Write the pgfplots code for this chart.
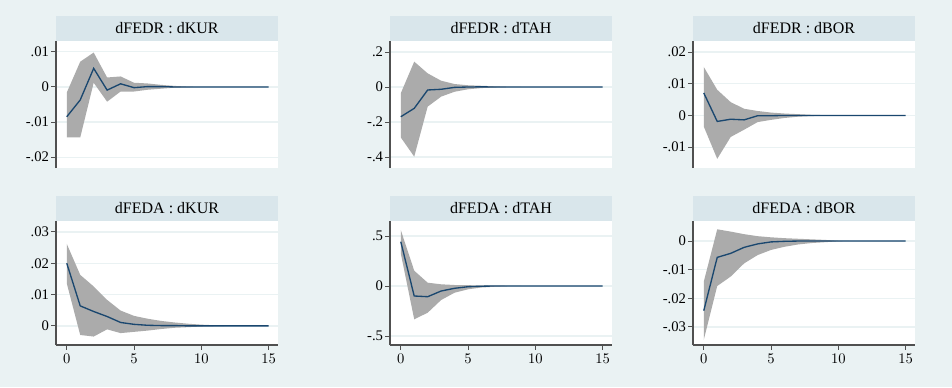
\documentclass[border=0pt]{standalone}
\usepackage{fontspec}
\setmainfont{Liberation Serif}
\usepackage{pgfplots}
\pgfplotsset{compat=1.18}
\usepackage{pgfplotstable}
\usepgfplotslibrary{fillbetween}
\definecolor{bgc}{HTML}{EAF2F3}
\definecolor{titc}{HTML}{D9E6EB}
\definecolor{navy}{HTML}{1A476F}
\definecolor{cig}{HTML}{ABABAB}
\definecolor{axc}{HTML}{505050}
\definecolor{gridc}{HTML}{EAF2F3}
\pagecolor{bgc}

\pgfplotstableread{
t irf lo hi
0 -0.0085 -0.0144 -0.0016
1 -0.0037 -0.0144 0.0072
2 0.0053 0.0012 0.0098
3 -0.0009 -0.0042 0.0027
4 0.0009 -0.0013 0.0030
5 -0.0002 -0.0013 0.0012
6 0.0001 -0.0008 0.0010
7 0.0001 -0.0005 0.0006
8 0.0000 -0.0002 0.0003
9 0.0000 -0.0001 0.0001
10 0 0 0
11 0 0 0
12 0 0 0
13 0 0 0
14 0 0 0
15 0 0 0
}\Pone

\pgfplotstableread{
t irf lo hi
0 -0.170 -0.288 -0.036
1 -0.122 -0.398 0.145
2 -0.017 -0.112 0.078
3 -0.013 -0.055 0.036
4 -0.002 -0.027 0.017
5 0.000 -0.013 0.010
6 0.001 -0.006 0.007
7 0.000 -0.003 0.004
8 0 -0.001 0.001
9 0 0 0
10 0 0 0
11 0 0 0
12 0 0 0
13 0 0 0
14 0 0 0
15 0 0 0
}\Ptwo

\pgfplotstableread{
t irf lo hi
0 0.0071 -0.0035 0.0153
1 -0.0019 -0.0137 0.0081
2 -0.0012 -0.0068 0.0042
3 -0.0014 -0.0045 0.0021
4 -0.0001 -0.0021 0.0014
5 -0.0001 -0.0014 0.0009
6 0.0000 -0.0008 0.0006
7 0 -0.0004 0.0004
8 0 -0.0002 0.0002
9 0 -0.0001 0.0001
10 0 0 0
11 0 0 0
12 0 0 0
13 0 0 0
14 0 0 0
15 0 0 0
}\Pthree

\pgfplotstableread{
t irf lo hi
0 0.0200 0.0136 0.0262
1 0.0064 -0.0029 0.0163
2 0.0046 -0.0034 0.0126
3 0.0030 -0.0011 0.0083
4 0.0011 -0.0023 0.0049
5 0.0005 -0.0019 0.0032
6 0.0002 -0.0015 0.0023
7 0.0001 -0.0010 0.0016
8 0.0001 -0.0006 0.0011
9 0.0000 -0.0004 0.0007
10 0 -0.0002 0.0004
11 0 -0.0001 0.0002
12 0 0 0.0001
13 0 0 0
14 0 0 0
15 0 0 0
}\Pfour

\pgfplotstableread{
t irf lo hi
0 0.443 0.327 0.560
1 -0.100 -0.333 0.153
2 -0.107 -0.267 0.033
3 -0.050 -0.140 0.017
4 -0.023 -0.067 0.010
5 -0.007 -0.033 0.008
6 -0.002 -0.015 0.006
7 0 -0.007 0.004
8 0 -0.002 0.002
9 0 0 0
10 0 0 0
11 0 0 0
12 0 0 0
13 0 0 0
14 0 0 0
15 0 0 0
}\Pfive

\pgfplotstableread{
t irf lo hi
0 -0.0243 -0.0345 -0.0142
1 -0.0057 -0.0157 0.0041
2 -0.0043 -0.0124 0.0033
3 -0.0022 -0.0078 0.0024
4 -0.0010 -0.0049 0.0017
5 -0.0003 -0.0031 0.0013
6 -0.0001 -0.0020 0.0010
7 0 -0.0012 0.0008
8 0 -0.0007 0.0006
9 0 -0.0004 0.0004
10 0 -0.0001 0.0001
11 0 0 0
12 0 0 0
13 0 0 0
14 0 0 0
15 0 0 0
}\Psix

\pgfplotsset{
  irf/.style={
    scale only axis, width=166.5pt, xmin=-0.8, xmax=15.7,
    anchor=south west,
    axis y line*=left,
    axis line style={axc, line width=0.9pt},
    tick style={axc, line width=0.7pt},
    tick align=outside, major tick length=3.5pt,
    ymajorgrids, grid style={gridc, line width=0.9pt},
    axis background/.style={fill=white},
    tick label style={font=\fontsize{11}{12}\selectfont},
    yticklabel style={inner xsep=1.5pt},
    title style={at={(0.5,1)}, anchor=south, fill=titc, minimum width=166.5pt,
      minimum height=18.4pt, inner sep=0pt, font=\fontsize{12}{13}\selectfont},
    every axis title shift=0pt,
  },
  toprow/.style={irf, height=95.25pt, axis x line=none, xtick=\empty},
  botrow/.style={irf, height=93pt, axis x line*=bottom, xtick={0,5,10,15}},
}

\newcommand{\band}[2]{%
  \addplot[name path=#2hi, draw=none, forget plot] table[x=t,y=hi]{#1};
  \addplot[name path=#2lo, draw=none, forget plot] table[x=t,y=lo]{#1};
  \addplot[cig, draw=none] fill between[of=#2hi and #2lo];
  \addplot[navy, line width=1pt] table[x=t,y=irf]{#1};
}

\begin{document}
\begin{tikzpicture}
\path (0,0) rectangle (714pt,290.25pt);

\begin{axis}[toprow, at={(42pt,164.25pt)}, title={dFEDR : dKUR},
  ymin=-0.0231, ymax=0.0131, ytick={-0.02,-0.01,0,0.01}, yticklabels={-.02,-.01,0,.01}]
\band{\Pone}{a}
\end{axis}

\begin{axis}[toprow, at={(292.5pt,164.25pt)}, title={dFEDR : dTAH},
  ymin=-0.463, ymax=0.263, ytick={-0.4,-0.2,0,0.2}, yticklabels={-.4,-.2,0,.2}]
\band{\Ptwo}{b}
\end{axis}

\begin{axis}[toprow, at={(519.75pt,164.25pt)}, title={dFEDR : dBOR},
  ymin=-0.0166, ymax=0.0235, ytick={-0.01,0,0.01,0.02}, yticklabels={-.01,0,.01,.02}]
\band{\Pthree}{c}
\end{axis}

\begin{axis}[botrow, at={(42pt,31.5pt)}, title={dFEDA : dKUR},
  ymin=-0.0061, ymax=0.0335, ytick={0,0.01,0.02,0.03}, yticklabels={0,.01,.02,.03}]
\band{\Pfour}{d}
\end{axis}

\begin{axis}[botrow, at={(292.5pt,31.5pt)}, title={dFEDA : dTAH},
  ymin=-0.59, ymax=0.65, ytick={-0.5,0,0.5}, yticklabels={-.5,0,.5}]
\band{\Pfive}{e}
\end{axis}

\begin{axis}[botrow, at={(519.75pt,31.5pt)}, title={dFEDA : dBOR},
  ymin=-0.0363, ymax=0.0070, ytick={-0.03,-0.02,-0.01,0}, yticklabels={-.03,-.02,-.01,0}]
\band{\Psix}{f}
\end{axis}
\end{tikzpicture}
\end{document}
